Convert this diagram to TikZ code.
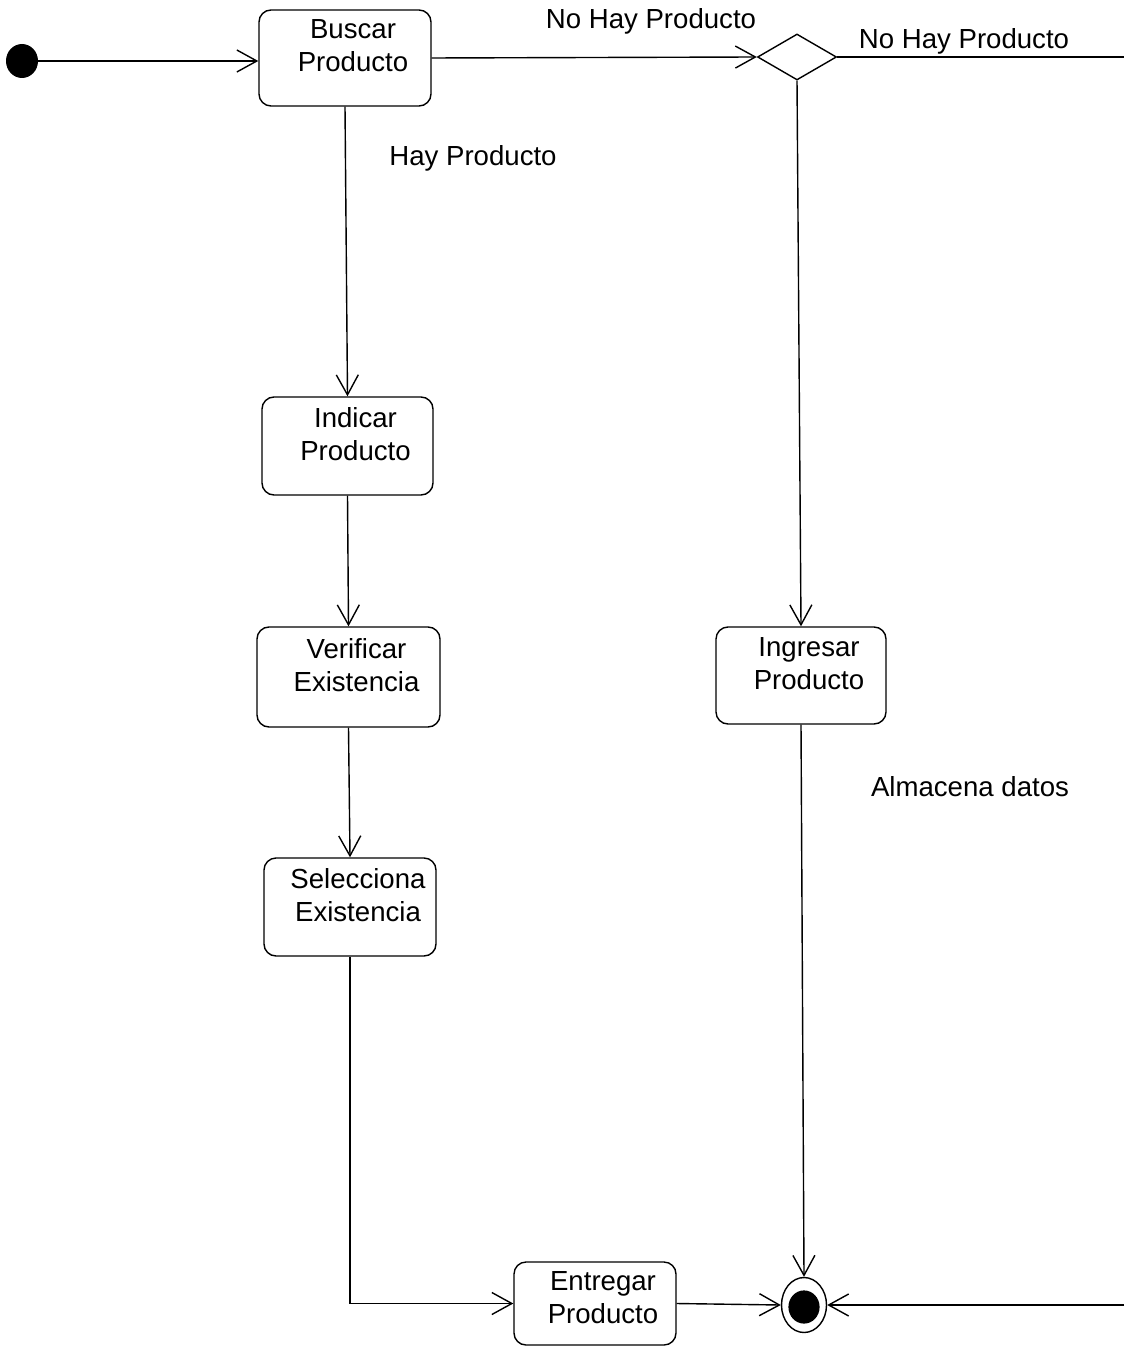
\documentclass[tikz,border=0pt]{standalone}
\usepackage{fontspec}
\setmainfont{Liberation Sans}
\usetikzlibrary{arrows.meta,shapes.geometric}

\tikzset{
	flow/.style={draw, line width=0.7pt, -{Straight Barb[length=10pt,width=11pt,line width=0.7pt]}},
	wire/.style={draw, line width=0.7pt},
	act/.style={draw, line width=0.7pt, rounded corners=6pt, inner sep=0pt},
	acttext/.style={align=center, font=\fontsize{13.8}{16.5}\selectfont, xshift=4pt, yshift=6pt},
	tag/.style={font=\fontsize{13.8}{16.5}\selectfont, inner sep=0pt},
}

\begin{document}
\begin{tikzpicture}[x=0.5pt, y=-0.5pt]
	\useasboundingbox (0,0) rectangle (1124,1347);
	\node[ellipse, fill=black, minimum width=16pt, minimum height=17pt, inner sep=0pt] (ini) at (22,61) {};
	\node[act, minimum width=86pt, minimum height=48pt, label={[acttext]center:Buscar\\Producto}] (buscar) at (345,58) {};
	\node[diamond, draw, line width=0.7pt, minimum width=39.5pt, minimum height=23pt, inner sep=0pt] (dec) at (797,57) {};
	\node[act, minimum width=85.5pt, minimum height=49pt, label={[acttext]center:Indicar\\Producto}] (indicar) at (347.5,446) {};
	\node[act, minimum width=91.5pt, minimum height=50pt, label={[acttext]center:Verificar\\Existencia}] (verificar) at (348.5,677) {};
	\node[act, minimum width=86pt, minimum height=49pt, label={[acttext]center:Selecciona\\Existencia}] (selecciona) at (350,907) {};
	\node[act, minimum width=85pt, minimum height=48.5pt, label={[acttext]center:Ingresar\\Producto}] (ingresar) at (801,675.5) {};
	\node[act, minimum width=81pt, minimum height=41.5pt, label={[acttext,yshift=-3pt]center:Entregar\\Producto}] (entregar) at (595,1303.5) {};
	\node[ellipse, draw, line width=0.7pt, minimum width=22.5pt, minimum height=27.5pt, inner sep=0pt] (fin) at (804,1305) {};
	\fill ([yshift=-1pt]fin.center) ellipse (7.8pt and 8.3pt);
	\coordinate (outA) at (1124,57);
	\coordinate (outB) at (1124,1305);
	\node[tag] (noHayA) at (651,21) {No Hay Producto};
	\node[tag] (noHayB) at (964,41) {No Hay Producto};
	\node[tag] (hay) at (473,158) {Hay Producto};
	\node[tag] (almacena) at (970,787) {Almacena datos};
	\draw[flow] (ini) -- (ini -| buscar.west);
	\draw[flow] (buscar.east) -- (dec.west);
	\draw[wire] (dec.east) -- (outA);
	\draw[flow] (dec.south) -- (ingresar.north);
	\draw[flow] (buscar.south) -- (indicar.north);
	\draw[flow] (indicar.south) -- (verificar.north);
	\draw[flow] (verificar.south) -- (selecciona.north);
	\draw[flow] (selecciona.south) |- (entregar.west);
	\draw[flow] (entregar.east) -- (fin.west);
	\draw[flow] (ingresar.south) -- (fin.north);
	\draw[flow] (outB) -- (fin.east);
\end{tikzpicture}
\end{document}
